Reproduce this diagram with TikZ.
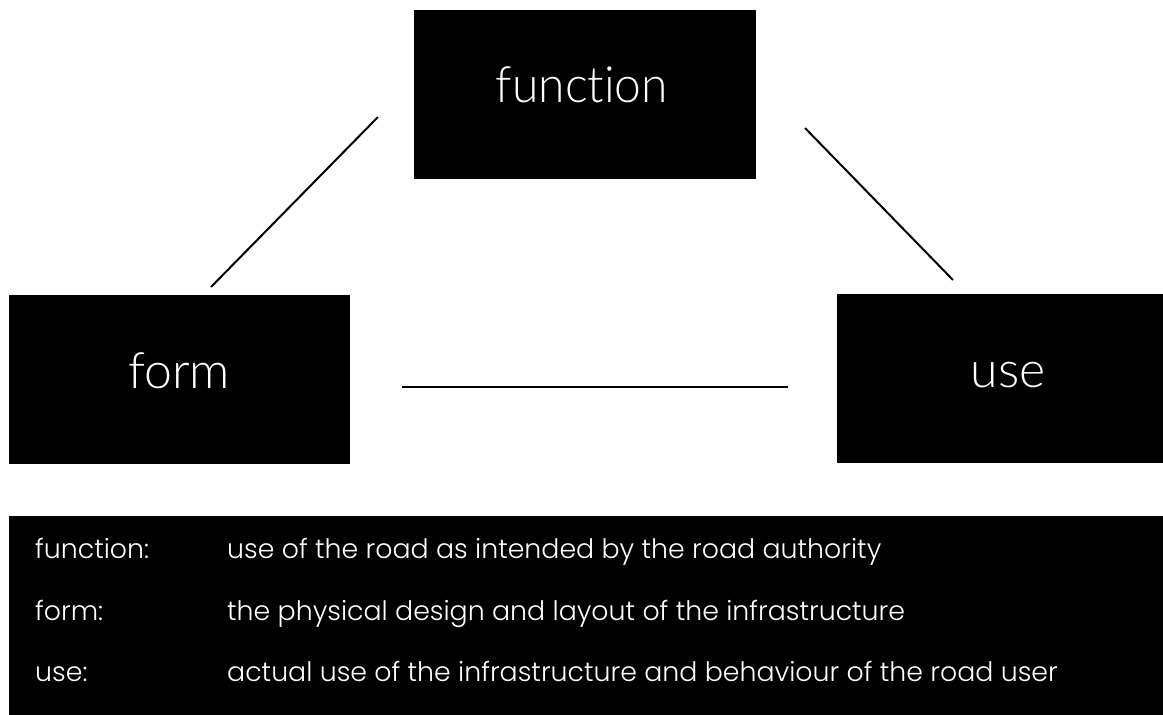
\documentclass[tikz,border=0pt]{standalone}
\usepackage{fontspec}
\newfontfamily\boxfont{Lato Light}[Ligatures=NoCommon]
\newfontfamily\legfont{Poppins Light}
\begin{document}
\begin{tikzpicture}[x=1pt,y=-1pt,
  blackbox/.style={fill=black, draw=none, inner sep=0pt, outer sep=0pt, anchor=north west},
  boxlabel/.style={text=white, inner sep=0pt, anchor=base, font=\boxfont\fontsize{50}{60}\selectfont},
  leglabel/.style={text=white, inner sep=0pt, anchor=base west, font=\legfont\fontsize{26.8}{32}\selectfont},
  conn/.style={draw=black, line width=2pt}]
\useasboundingbox (0,0) rectangle (1163,715);
\fill[white] (0,0) rectangle (1163,715);
% boxes
\node[blackbox, minimum width=342pt, minimum height=169pt] (fn) at (414,10) {};
\node[blackbox, minimum width=341pt, minimum height=169pt] (fo) at (9,295) {};
\node[blackbox, minimum width=342pt, minimum height=169pt] (us) at (837,294) {};
\node[boxlabel] (fnt) at (582,102) {\scalebox{0.96}[1]{function}};
\node[boxlabel] (fot) at (179,388) {form};
\node[boxlabel] (ust) at (1008,387) {use};
% connectors
\coordinate (a1) at (378,117);
\coordinate (a2) at (211,287);
\coordinate (b1) at (805,128);
\coordinate (b2) at (953,280);
\coordinate (h1) at (402,387);
\coordinate (h2) at (788,387);
\draw[conn] (a1) -- (a2);
\draw[conn] (b1) -- (b2);
\draw[conn] (h1) -- (h2);
% legend
\node[blackbox, minimum width=1170pt, minimum height=210pt] (leg) at (9,516) {};
\node[leglabel] (k1) at (35,558) {function:};
\node[leglabel] (k2) at (35,620) {form:};
\node[leglabel] (k3) at (35,681) {use:};
\node[leglabel] (d1) at (227,558) {use of the road as intended by the road authority};
\node[leglabel] (d2) at (227,620) {the physical design and layout of the infrastructure};
\node[leglabel] (d3) at (227,681) {actual use of the infrastructure and behaviour of the road user};
\end{tikzpicture}
\end{document}
